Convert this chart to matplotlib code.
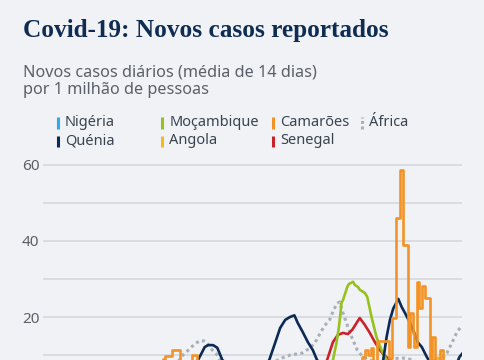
import matplotlib
matplotlib.use("Agg")
import matplotlib.pyplot as plt
from matplotlib.lines import Line2D

# ---------------- data (x = days since 2020-01-22, y = cases per million) ----
kenya_d = [0, 60, 120, 160, 185, 190, 193, 197, 203, 208, 214, 235, 255, 270, 277, 283, 289, 295, 300,
           304, 310, 316, 322, 327, 345, 380, 400, 406, 410, 414, 418, 424, 428, 432, 438, 444, 447, 452,
           458, 465, 480, 492, 497, 500]
kenya_v = [0, 0, 1, 4, 8.8, 10.9, 12.2, 12.7, 12.7, 12.0, 8.8, 5, 4, 8.8, 13.3, 17.2, 19.3, 20.1, 20.5,
           18.5, 16.1, 13.5, 11.4, 8.8, 5, 3.5, 5, 8.8, 14.8, 19.3, 22.3, 24.8, 22.7, 21.1, 18.5, 15.4, 13.5,
           12.2, 9.6, 7, 5.5, 7, 9.6, 10.4]

africa_d = [0, 40, 80, 120, 150, 163, 167, 175, 181, 187, 192, 196, 202, 208, 211, 230, 260, 275, 285,
            295, 309, 319, 325, 331, 336, 342, 346, 351, 354, 358, 363, 368, 375, 381, 387, 400, 412, 420,
            430, 438, 450, 465, 474, 480, 482, 488, 494, 497, 500]
africa_v = [0, 0.1, 1, 4, 7, 8.8, 10.1, 11.7, 13.0, 13.8, 13.8, 13.3, 11.4, 10.1, 8.8, 7, 6.8, 8.2, 9.3,
            10.1, 10.6, 12.0, 13.5, 15.9, 17.8, 19.3, 21.5, 23.7, 24.0, 21.1, 18.0, 15.0, 11.4, 9.8, 8.8,
            8.3, 8.8, 9.2, 9.3, 9.0, 8.0, 8.2, 8.8, 10.1, 10.6, 13.3, 16.1, 17.0, 17.8]

mozambique_d = [0, 200, 300, 335, 346, 350, 353, 355, 356, 358, 363, 365, 370, 372, 376, 378, 384, 387,
                392, 398, 404, 410, 425, 460, 500]
mozambique_v = [0, 0.5, 1.5, 4, 8.8, 13.0, 17.2, 21.0, 23.7, 24.5, 27.9, 28.7, 29.3, 28.5, 27.9, 27.2,
                26.4, 25.3, 20.1, 14.8, 11.4, 8.8, 6, 3, 2]

senegal_d = [0, 200, 300, 330, 339, 346, 352, 358, 364, 369, 375, 378, 384, 390, 396, 402, 408, 414, 430,
             470, 500]
senegal_v = [0, 1, 2, 5, 8.8, 13.5, 15.4, 15.9, 15.6, 16.7, 18.8, 19.8, 18.0, 15.9, 13.5, 11.4, 9.9, 8.8,
             7, 4, 3]

angola_d = [0, 300, 440, 466, 471, 476, 490, 500]
angola_v = [0, 2, 5, 8.5, 9.4, 8.6, 6, 5]

nigeria_d = [0, 150, 180, 240, 330, 360, 420, 500]
nigeria_v = [0, 2, 3, 1, 4, 6, 1, 1]

cameroon_d = [0, 100, 130, 143, 146, 154, 164, 178, 184, 250, 320, 381, 384, 388, 391, 394, 399, 413, 416,
              421, 426, 429, 435, 438, 441, 443, 446, 449, 452, 456, 462, 464, 468, 474, 477, 500]
cameroon_v = [0, 1, 6, 9.0, 9.8, 11.3, 6, 10.1, 5, 3, 4, 9.6, 11.5, 10.2, 12.0, 6, 13.8, 9.2, 19.8,
              46.0, 58.6, 39.0, 12.2, 21.1, 15.9, 12.2, 29.3, 22.5, 28.2, 25.1, 5, 14.8, 5, 11.4, 6, 6]

y_ticks = [10, 20, 30, 40, 50, 60]
y_labels = ["", "20", "", "40", "", "60"]

title = "Covid-19: Novos casos reportados"
subtitle = "Novos casos diários (média de 14 dias)\npor 1 milhão de pessoas"

legend_rows = [["Nigéria", "Moçambique", "Camarões", "África"],
               ["Quénia", "Angola", "Senegal"]]

# ---------------- styles ----------------
BG = "#F0F2F5"
C = {
    "Nigéria": "#2FA8EE",
    "Quénia": "#0C2A56",
    "Moçambique": "#96C11F",
    "Angola": "#F5B921",
    "Camarões": "#F39325",
    "Senegal": "#C8232B",
    "África": "#A9B0B9",
}

W, H = 485, 360
fig = plt.figure(figsize=(W / 100, H / 100), dpi=100, facecolor=BG)

ax = fig.add_axes([43 / W, 0, 419 / W, 200 / H])
ax.set_facecolor(BG)
ax.set_xlim(0, 500)
ax.set_ylim(8.8, 61.2)
for s in ax.spines.values():
    s.set_visible(False)
ax.set_xticks([])
ax.set_yticks(y_ticks)
ax.set_yticklabels(y_labels)
ax.tick_params(axis="y", length=0, pad=2.5, labelsize=11, labelcolor="#5B6068")
for lab in ax.get_yticklabels():
    lab.set_family("Noto Sans")
ax.grid(axis="y", color="#D3D6DB", linewidth=1.1)
ax.set_axisbelow(True)

lw = 1.9
ax.plot(africa_d, africa_v, color=C["África"], lw=2.2, linestyle=(0, (1, 1.1)), zorder=2)
ax.plot(nigeria_d, nigeria_v, color=C["Nigéria"], lw=lw, zorder=3)
ax.plot(angola_d, angola_v, color=C["Angola"], lw=lw, zorder=3)
ax.plot(senegal_d, senegal_v, color=C["Senegal"], lw=lw, zorder=3)
ax.plot(mozambique_d, mozambique_v, color=C["Moçambique"], lw=lw, zorder=3)
ax.plot(kenya_d, kenya_v, color=C["Quénia"], lw=lw, zorder=4)
ax.plot(cameroon_d, cameroon_v, color=C["Camarões"], lw=lw, drawstyle="steps-post", zorder=5)

# ---------------- texts ----------------
fig.text(23 / W, 1 - 31 / H, title, family="Liberation Serif", weight="bold", fontsize=18.2,
         color="#0F2C52", va="center", ha="left")
fig.text(23 / W, 1 - 81 / H, subtitle, family="Noto Sans", fontsize=11.7, color="#5B6068",
         va="center", ha="left", linespacing=1.15)

col_marker_x = [58, 162.5, 273, 362]
row_y = [123, 141]
for r, row in enumerate(legend_rows):
    for c, name in enumerate(row):
        mx = col_marker_x[c] / W
        y0 = 1 - (row_y[r] + 5.5) / H
        y1 = 1 - (row_y[r] - 5.5) / H
        if name == "África":
            fig.add_artist(Line2D([mx, mx], [y0, y1], transform=fig.transFigure, color=C[name],
                                  lw=2.2, linestyle=(0, (1, 0.8))))
        else:
            fig.add_artist(Line2D([mx, mx], [y0, y1], transform=fig.transFigure, color=C[name],
                                  lw=2.2, solid_capstyle="butt"))
        fig.text(mx + 7 / W, 1 - row_y[r] / H, name, family="Noto Sans", fontsize=10.5,
                 color="#3A4450", va="center", ha="left")

fig.savefig("out.png", dpi=100, facecolor=BG)
